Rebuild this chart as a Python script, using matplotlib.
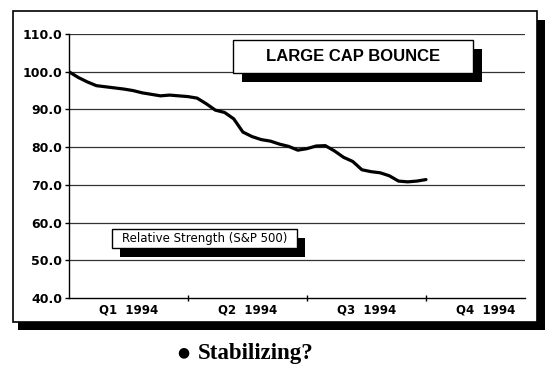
import numpy as np
import matplotlib.pyplot as plt
from matplotlib.patches import Rectangle

# weekly relative strength vs S&P 500, Q1-Q3 1994
weeks = np.arange(40)
strength = [100.0, 98.5, 97.3, 96.3, 96.0, 95.7, 95.4, 95.0, 94.4, 94.0,
            93.6, 93.8, 93.6, 93.4, 93.0, 91.5, 89.8, 89.2, 87.5, 84.0,
            82.8, 82.0, 81.6, 80.8, 80.2, 79.2, 79.6, 80.3, 80.4, 79.0,
            77.3, 76.2, 74.0, 73.5, 73.2, 72.4, 71.0, 70.8, 71.0, 71.4]
quarter_ticks = [13, 26, 39]
quarter_label_pos = [6.5, 19.5, 32.5, 45.5]
quarter_labels = ["Q1  1994", "Q2  1994", "Q3  1994", "Q4  1994"]
yticks = [40, 50, 60, 70, 80, 90, 100, 110]

fig = plt.figure(figsize=(5.56, 3.76), dpi=100)
ax = fig.add_axes([0.124, 0.2074, 0.820, 0.7022])

for y in yticks[1:]:
    ax.axhline(y, color="#333333", lw=0.9, zorder=1)

ax.plot(weeks, strength, color="black", lw=2.3, solid_capstyle="round", zorder=3)

ax.set_xlim(0, 49.8)
ax.set_ylim(40, 110)
ax.set_yticks(yticks)
ax.set_yticklabels([f"{v:.1f}" for v in yticks], fontsize=9, fontweight="bold")
ax.set_xticks(quarter_ticks)
ax.set_xticklabels([])
ax.set_xticks(quarter_label_pos, minor=True)
ax.set_xticklabels(quarter_labels, minor=True, fontsize=8.5, fontweight="bold")

for side in ("top", "right"): ax.spines[side].set_visible(False)
for side in ("left", "bottom"): ax.spines[side].set_linewidth(1.0)
ax.tick_params(axis="y", direction="out", length=3, width=1, pad=2)
ax.tick_params(axis="x", which="major", direction="inout", length=5, width=1)
ax.tick_params(axis="x", which="minor", length=0, pad=4)

# title box with shadow
ax.add_patch(Rectangle((18.9, 97.3), 26.2, 8.7, facecolor="black", zorder=4, clip_on=False))
ax.add_patch(Rectangle((17.9, 99.7), 26.2, 8.7, facecolor="white", edgecolor="black",
                       lw=1.0, zorder=5, clip_on=False))
ax.text(31.0, 104.05, "LARGE CAP BOUNCE", ha="center", va="center", fontsize=12,
        fontweight="bold", family="Liberation Sans", zorder=6)

# series label box with shadow
ax.add_patch(Rectangle((5.6, 50.8), 20.2, 5.0, facecolor="black", zorder=4))
ax.add_patch(Rectangle((4.7, 53.2), 20.2, 5.1, facecolor="white", edgecolor="black",
                       lw=1.0, zorder=5))
ax.text(14.8, 55.75, "Relative Strength (S&P 500)", ha="center", va="center",
        fontsize=8.5, zorder=6)

# outer frame with drop shadow
fig.add_artist(Rectangle((537 / 556, 1 - 330 / 376), 8 / 556, 310 / 376,
                         transform=fig.transFigure, facecolor="black"))
fig.add_artist(Rectangle((18 / 556, 1 - 330 / 376), 527 / 556, 8 / 376,
                         transform=fig.transFigure, facecolor="black"))
fig.add_artist(Rectangle((13 / 556, 1 - 322 / 376), 524 / 556, 311 / 376,
                         transform=fig.transFigure, facecolor="none", edgecolor="black", lw=1.2))

fig.text(183 / 556, 0.063, "\u25cf", ha="center", va="center", fontsize=10,
         family="DejaVu Sans")
fig.text(198 / 556, 0.061, "Stabilizing?", ha="left", va="center",
         fontsize=16.5, family="Liberation Serif", fontweight="bold")

fig.savefig("out.png", dpi=100)
